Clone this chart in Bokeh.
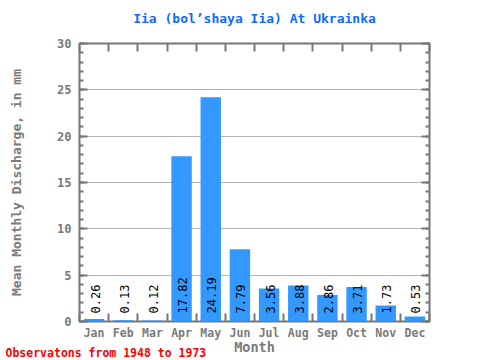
import math
from bokeh.plotting import figure
from bokeh.models import (Range1d, LinearAxis, FixedTicker, SingleIntervalTicker,
                          Title, ColumnDataSource)
from bokeh.core.properties import value
from bokeh.embed import file_html
from bokeh.resources import INLINE

# ---- data ----
months = ["Jan", "Feb", "Mar", "Apr", "May", "Jun",
          "Jul", "Aug", "Sep", "Oct", "Nov", "Dec"]
discharge = [0.26, 0.13, 0.12, 17.82, 24.19, 7.79,
             3.56, 3.88, 2.86, 3.71, 1.73, 0.53]
title_text = "Iia (bol\u2019shaya Iia) At Ukrainka"
y_label = "Mean Monthly Discharge, in mm"
x_label = "Month"
footer_text = "Observatons from 1948 to 1973"
y_min, y_max = 0, 30

FONT = "DejaVu Sans Mono"
GRAY = "#777777"
TXT_GRAY = "#7a7a7a"
BAR = "#3399ff"

positions = list(range(1, len(months) + 1))
bounds = [x - 0.5 for x in positions] + [positions[-1] + 0.5]
labels = [f"{v:.2f}" for v in discharge]

src = ColumnDataSource(dict(x=positions, top=discharge, label=labels))

p = figure(width=480, height=360, output_backend="svg", toolbar_location=None,
           x_range=Range1d(bounds[0], bounds[-1]), y_range=Range1d(y_min, y_max),
           min_border_left=79, min_border_right=51, min_border_top=43,
           min_border_bottom=39)
p.background_fill_color = "white"
p.border_fill_color = "white"
p.outline_line_color = GRAY
p.outline_line_width = 2
p.title.text = ""

# bars
p.vbar(x="x", top="top", bottom=0, width=0.7, source=src,
       fill_color=BAR, line_color=None)

# value labels
p.text(x="x", y=0, text="label", source=src, angle=math.pi / 2,
       text_align="left", text_baseline="middle", y_offset=-8, x_offset=1,
       text_font=value(FONT), text_font_size="12px", text_color="black")

yticker = SingleIntervalTicker(interval=5, num_minor_ticks=5)
xticker = FixedTicker(ticks=positions, minor_ticks=bounds)


def style_axis(ax, show_labels):
    ax.axis_line_color = None
    ax.major_tick_line_color = GRAY
    ax.major_tick_line_width = 2
    ax.minor_tick_line_color = GRAY
    ax.minor_tick_line_width = 2
    ax.major_tick_out = 0
    ax.minor_tick_out = 0
    ax.major_label_text_font = FONT
    ax.major_label_text_font_style = "bold"
    ax.major_label_text_color = TXT_GRAY if show_labels else None


# left axis
yax = p.yaxis[0]
yax.ticker = yticker
style_axis(yax, True)
yax.major_tick_in = 8
yax.minor_tick_in = 4
yax.major_label_text_font_size = "12px"
yax.major_label_standoff = 8
yax.axis_label = y_label
yax.axis_label_text_font = FONT
yax.axis_label_text_font_style = "bold"
yax.axis_label_text_font_size = "13px"
yax.axis_label_text_color = TXT_GRAY
yax.axis_label_standoff = 30

# right axis (ticks only)
rax = LinearAxis(ticker=yticker)
style_axis(rax, False)
rax.major_tick_in = 8
rax.minor_tick_in = 4
rax.major_label_text_font_size = "11px"
p.add_layout(rax, "right")

# bottom axis (tick labels only; the axis title is a Title below)
xax = p.xaxis[0]
xax.ticker = xticker
style_axis(xax, True)
xax.major_tick_in = 0
xax.minor_tick_in = 8
xax.major_label_text_font_size = "11.5px"
xax.major_label_standoff = 4
xax.major_label_overrides = {pos: m for pos, m in zip(positions, months)}

# top axis (ticks only) carrying the chart title
tax = LinearAxis(ticker=xticker)
style_axis(tax, False)
tax.major_tick_in = 0
tax.minor_tick_in = 8
tax.major_label_text_font_size = "11px"
tax.axis_label = title_text
tax.axis_label_text_font = FONT
tax.axis_label_text_font_style = "bold"
tax.axis_label_text_font_size = "13px"
tax.axis_label_text_color = "#0a6cff"
tax.axis_label_standoff = 18
p.add_layout(tax, "above")

p.xgrid.visible = False
p.ygrid.ticker = yticker
p.ygrid.grid_line_color = "#b4b4b4"
p.ygrid.grid_line_width = 1

# x-axis title ("Month") and footer, sharing one row below the tick labels
month_title = Title(text=x_label, align="center", vertical_align="bottom",
                    offset=4, standoff=-12,
                    text_font=FONT, text_font_style="bold",
                    text_font_size="13.5px", text_color=TXT_GRAY)
p.add_layout(month_title, "below")

footer = Title(text=footer_text, align="left", vertical_align="bottom",
               offset=-74, standoff=-10,
               text_font=FONT, text_font_style="bold", text_font_size="11.5px",
               text_color="#ff0000")
p.add_layout(footer, "below")

open("out.html", "w").write(file_html(p, INLINE))
